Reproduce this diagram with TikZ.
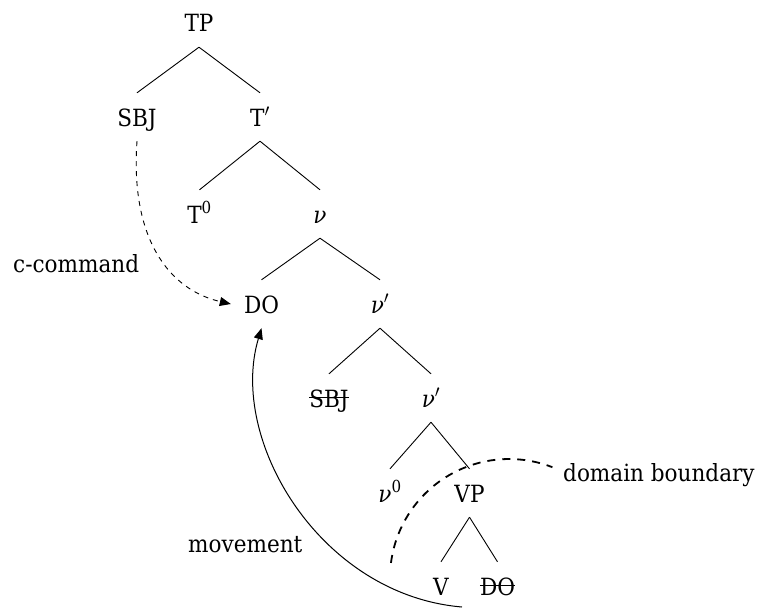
\documentclass[tikz,border=0pt]{standalone}
\usepackage{fontspec}
\setmainfont{DejaVu Serif}[FakeStretch=0.91]
\usetikzlibrary{arrows.meta}
\newcommand\mypr{\ensuremath{^{\prime}}}
\begin{document}
\begin{tikzpicture}[x=1pt,y=-1pt,
  lab/.style={font=\fontsize{23.7}{28}\selectfont, inner sep=0pt},
  tn/.style={lab, anchor=base, text height=18pt, text depth=0pt, inner ysep=15pt, inner xsep=0pt},
  branch/.style={line width=0.9pt},
  strike/.style={line width=1.1pt},
  ccarrow/.style={line width=0.9pt, dash pattern=on 5pt off 5pt, -{Triangle[length=11pt,width=9pt]}},
  mvarrow/.style={line width=1pt, -{Triangle[length=11pt,width=9pt]}},
  bound/.style={line width=1.8pt, dash pattern=on 8pt off 7pt}]
\useasboundingbox (0,0) rectangle (760,610);
% tree nodes
\node[tn] (tp) at (199,32) {TP};
\node[tn] (sbj) at (137,126) {SBJ};
\node[tn] (tbar) at (260,126) {T\mypr};
\node[tn] (t0) at (199.5,223) {T\textsuperscript{0}};
\node[tn] (v1) at (320,223) {\itshape ν};
\node[tn, inner xsep=13pt] (do1) at (261.5,313) {DO};
\node[tn] (vb1) at (380,313) {\itshape ν\upshape\mypr};
\node[tn] (sbj2) at (329,407) {SBJ};
\node[tn] (vb2) at (431,407) {\itshape ν\upshape\mypr};
\node[tn] (v0) at (390,502) {\itshape ν\upshape\textsuperscript{0}};
\node[tn] (vp) at (469.5,502) {VP};
\node[tn] (vv) at (441,595) {V};
\node[tn] (do2) at (497.5,595) {DO};
% strike-through
\draw[strike] ([yshift=9.2pt]sbj2.base west) -- ([yshift=9.2pt]sbj2.base east);
\draw[strike] ([yshift=9.2pt]do2.base west) -- ([yshift=9.2pt]do2.base east);
% labels
\node[lab, anchor=base west] (cclab) at (13,272) {c-command};
\node[lab, anchor=base west] (mvlab) at (188,552) {movement};
\node[lab, anchor=base west] (dblab) at (563,481) {domain boundary};
% branches
\draw[branch] (tp.south) -- (sbj.north);
\draw[branch] (tp.south) -- (tbar.north);
\draw[branch] (tbar.south) -- (t0.north);
\draw[branch] (tbar.south) -- (v1.north);
\draw[branch] (v1.south) -- (do1.north);
\draw[branch] (v1.south) -- (vb1.north);
\draw[branch] (vb1.south) -- (sbj2.north);
\draw[branch] (vb1.south) -- (vb2.north);
\draw[branch] (vb2.south) -- (v0.north);
\draw[branch] (vb2.south) -- (vp.north);
\draw[branch] (vp.south) -- (vv.north);
\draw[branch] (vp.south) -- (do2.north);
% c-command
\draw[ccarrow] (sbj.south) .. controls (130,240) and (170,290) .. (do1.west);
% movement
\coordinate (mstart) at (462,607);
\draw[mvarrow] (mstart) .. controls (320,595) and (228,440) .. (do1.south);
% domain boundary
\draw[bound] (509,578) ++(-172.7:119) arc[start angle=-172.7, end angle=-68.6, radius=119];
\end{tikzpicture}
\end{document}
